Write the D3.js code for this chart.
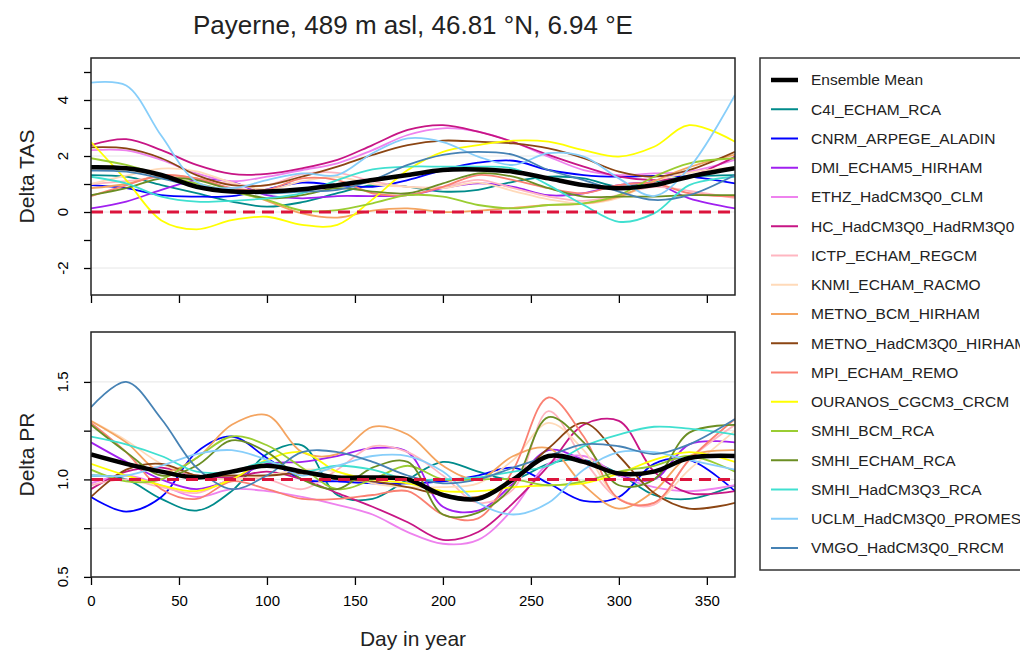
<!DOCTYPE html>
<html>
<head>
<meta charset="utf-8">
<script src="https://cdn.jsdelivr.net/npm/d3@7.9.0/dist/d3.min.js"></script>
<style>
  body { margin: 0; background: #fff; }
  svg { font-family: "Liberation Sans", Arial, Helvetica, sans-serif; }
</style>
</head>
<body>
<script>
// Day-of-year sample points shared by every series
const days = [0, 20, 40, 60, 80, 100, 120, 140, 160, 180, 200, 220, 240, 260, 280, 300, 320, 340, 366];

const modelNames = ["C4I_ECHAM_RCA", "CNRM_ARPEGE_ALADIN", "DMI_ECHAM5_HIRHAM", "ETHZ_HadCM3Q0_CLM",
  "HC_HadCM3Q0_HadRM3Q0", "ICTP_ECHAM_REGCM", "KNMI_ECHAM_RACMO", "METNO_BCM_HIRHAM",
  "METNO_HadCM3Q0_HIRHAM", "MPI_ECHAM_REMO", "OURANOS_CGCM3_CRCM", "SMHI_BCM_RCA",
  "SMHI_ECHAM_RCA", "SMHI_HadCM3Q3_RCA", "UCLM_HadCM3Q0_PROMES", "VMGO_HadCM3Q0_RRCM"];

const modelColors = ["#008B8B", "#0000FF", "#A020F0", "#EE82EE", "#C71585", "#FFB6C1", "#FFDAB9", "#F4A460",
  "#8B4513", "#FA8072", "#FFFF00", "#9ACD32", "#6B8E23", "#40E0D0", "#87CEFA", "#4682B4"];

// Delta TAS (temperature change)
const tasMean = [1.6, 1.56, 1.32, 0.9, 0.73, 0.73, 0.81, 0.96, 1.14, 1.32, 1.5, 1.52, 1.44, 1.2, 0.96, 0.85, 0.96, 1.26, 1.56];
const tasC4I = [1.32, 1.26, 0.96, 0.67, 0.37, 0.19, 0.35, 0.67, 0.96, 0.9, 0.73, 0.79, 1.08, 1.26, 1.2, 0.9, 1.08, 1.26, 1.32];
const tasCNRM = [0.96, 0.85, 0.6, 0.55, 0.57, 0.81, 1.05, 0.96, 0.9, 1.14, 1.5, 1.76, 1.83, 1.5, 1.32, 1.26, 1.29, 1.26, 1.02];
const tasDMI = [0.13, 0.37, 0.79, 1.14, 1.08, 0.6, 0.49, 0.57, 0.57, 0.6, 0.85, 1.02, 0.9, 0.6, 0.67, 0.96, 1.02, 0.49, 0.13];
const tasETHZ = [2.21, 2.2, 1.86, 1.38, 1.1, 1.26, 1.5, 1.74, 2.21, 2.75, 2.99, 2.87, 2.5, 1.98, 1.5, 1.32, 1.38, 1.44, 1.86];
const tasHC = [2.39, 2.6, 2.21, 1.68, 1.36, 1.36, 1.56, 1.86, 2.39, 2.93, 3.1, 2.87, 2.5, 2.04, 1.62, 1.26, 1.14, 1.26, 1.98];
const tasICTP = [1.0, 1.1, 1.25, 1.2, 1.0, 0.95, 1.35, 1.4, 1.1, 0.9, 0.9, 1.15, 0.85, 0.55, 0.4, 0.6, 0.9, 0.75, 0.5];
const tasKNMI = [1.0, 1.3, 1.55, 1.45, 1.05, 0.8, 1.1, 1.25, 1.0, 0.9, 0.85, 1.05, 0.75, 0.45, 0.3, 0.5, 1.1, 1.4, 1.6];
const tasMETNOb = [0.85, 1.0, 1.3, 1.2, 0.8, 0.4, -0.05, -0.2, 0.05, 0.13, 0.0, 0.05, 0.15, 0.25, 0.3, 0.55, 1.1, 1.6, 2.05];
const tasMETNOh = [2.31, 2.27, 1.92, 1.32, 0.96, 0.96, 1.26, 1.62, 2.04, 2.39, 2.55, 2.51, 2.45, 2.27, 1.92, 1.44, 1.26, 1.5, 2.15];
const tasMPI = [0.57, 0.95, 1.32, 1.2, 0.85, 0.8, 1.2, 1.14, 0.67, 0.6, 0.9, 1.32, 1.14, 0.85, 0.67, 0.96, 1.02, 0.67, 0.55];
const tasOURANOS = [2.5, 1.14, -0.3, -0.62, -0.29, -0.17, -0.46, -0.46, 0.45, 1.5, 2.15, 2.39, 2.55, 2.51, 2.21, 1.98, 2.33, 3.1, 2.51];
const tasSMHIb = [1.92, 1.68, 1.32, 1.02, 0.73, 0.43, 0.05, 0.07, 0.31, 0.6, 0.55, 0.25, 0.13, 0.25, 0.31, 0.6, 1.26, 1.74, 1.92];
const tasSMHIe = [0.6, 0.85, 1.2, 1.14, 0.79, 0.49, 0.6, 0.85, 0.73, 0.67, 1.02, 1.38, 1.26, 0.85, 0.55, 0.55, 0.55, 0.6, 0.6];
const tasSMHIh = [1.26, 1.02, 0.55, 0.37, 0.4, 0.49, 0.67, 1.14, 1.52, 1.62, 1.62, 1.62, 1.55, 0.96, 0.25, -0.35, -0.05, 0.96, 1.26];
const tasUCLM = [4.62, 4.52, 2.72, 1.08, 0.85, 1.14, 1.38, 1.32, 2.1, 2.63, 2.5, 1.98, 1.68, 2.1, 1.98, 1.2, 0.57, 1.58, 4.18];
const tasVMGO = [1.48, 1.44, 1.2, 0.9, 0.73, 0.67, 0.73, 0.79, 1.14, 1.68, 2.04, 2.15, 2.04, 1.5, 1.14, 0.73, 0.43, 0.6, 1.32];

// Delta PR (precipitation ratio)
const prMean = [1.128, 1.08, 1.04, 1.01, 1.04, 1.07, 1.04, 1.01, 1.01, 1.0, 0.92, 0.9, 1.0, 1.12, 1.09, 1.03, 1.04, 1.11, 1.12];
const prC4I = [1.02, 1.0, 0.9, 0.84, 0.94, 1.13, 1.175, 0.92, 0.9, 1.0, 1.09, 1.04, 1.0, 1.08, 1.1, 1.03, 0.92, 0.9, 0.97];
const prCNRM = [0.91, 0.835, 0.91, 1.14, 1.22, 1.11, 1.0, 0.99, 0.98, 0.98, 0.99, 1.02, 1.06, 0.98, 0.89, 0.91, 1.08, 1.1, 0.94];
const prDMI = [1.19, 1.09, 1.0, 0.95, 1.0, 1.08, 1.09, 1.12, 1.16, 1.14, 0.86, 0.84, 0.98, 1.15, 1.1, 1.02, 1.0, 1.18, 1.19];
const prETHZ = [0.98, 1.02, 0.97, 0.91, 0.95, 0.94, 0.91, 0.87, 0.82, 0.73, 0.67, 0.69, 0.85, 1.08, 1.12, 1.02, 0.96, 0.94, 0.97];
const prHC = [0.95, 1.04, 1.06, 1.02, 1.01, 1.04, 1.0, 0.93, 0.86, 0.78, 0.69, 0.73, 0.88, 1.07, 1.28, 1.3, 1.04, 0.93, 0.94];
const prICTP = [0.97, 1.0, 0.96, 0.93, 1.0, 1.0, 0.95, 1.05, 1.17, 1.14, 1.02, 0.88, 0.95, 1.35, 1.1, 0.9, 0.87, 1.1, 1.28];
const prKNMI = [1.3, 1.2, 1.08, 1.02, 1.0, 1.02, 1.05, 1.04, 0.98, 0.96, 0.96, 0.98, 1.1, 1.29, 1.15, 0.9, 0.88, 1.05, 1.25];
const prMETNOb = [1.3, 1.19, 1.04, 1.11, 1.28, 1.33, 1.14, 1.13, 1.27, 1.23, 1.07, 1.0, 1.12, 1.16, 0.97, 0.85, 0.94, 1.12, 1.15];
const prMETNOh = [0.91, 1.05, 1.08, 1.02, 1.02, 1.02, 1.03, 1.0, 0.99, 0.96, 0.92, 0.91, 1.0, 1.16, 1.29, 1.12, 0.93, 0.85, 0.88];
const prMPI = [1.29, 1.14, 0.95, 0.9, 0.99, 0.95, 0.9, 0.9, 0.92, 0.94, 0.82, 0.8, 1.05, 1.42, 1.22, 0.9, 0.88, 1.1, 1.31];
const prOURANOS = [1.08, 1.02, 0.97, 0.94, 1.0, 1.1, 1.14, 1.04, 1.0, 0.98, 0.94, 0.94, 0.96, 0.97, 0.98, 1.03, 1.1, 1.14, 1.09];
const prSMHIb = [1.05, 0.99, 1.0, 1.11, 1.22, 1.175, 1.06, 0.95, 1.0, 1.07, 1.0, 1.0, 1.0, 0.97, 0.99, 1.04, 1.07, 1.12, 1.04];
const prSMHIe = [1.28, 1.14, 1.02, 1.07, 1.2, 1.14, 1.0, 0.95, 1.06, 1.09, 0.82, 0.83, 0.97, 1.32, 1.19, 0.97, 1.0, 1.24, 1.28];
const prSMHIh = [1.22, 1.18, 1.12, 1.04, 1.04, 1.09, 1.04, 1.07, 1.05, 1.0, 1.0, 1.01, 1.04, 1.07, 1.17, 1.23, 1.27, 1.26, 1.23];
const prUCLM = [1.02, 1.02, 1.07, 1.13, 1.15, 1.1, 1.02, 1.07, 1.12, 1.12, 1.04, 0.88, 0.82, 0.88, 1.05, 1.14, 1.14, 1.1, 1.05];
const prVMGO = [1.37, 1.5, 1.31, 1.06, 0.95, 1.02, 1.14, 1.14, 1.09, 1.02, 0.98, 1.0, 1.06, 1.12, 1.18, 1.17, 1.13, 1.18, 1.31];

const tasModels = [tasC4I, tasCNRM, tasDMI, tasETHZ, tasHC, tasICTP, tasKNMI, tasMETNOb, tasMETNOh, tasMPI,
  tasOURANOS, tasSMHIb, tasSMHIe, tasSMHIh, tasUCLM, tasVMGO];
const prModels = [prC4I, prCNRM, prDMI, prETHZ, prHC, prICTP, prKNMI, prMETNOb, prMETNOh, prMPI,
  prOURANOS, prSMHIb, prSMHIe, prSMHIh, prUCLM, prVMGO];

const xTicks = [0, 50, 100, 150, 200, 250, 300, 350];

const width = 1020, height = 652;
const svg = d3.select("body").append("svg").attr("width", width).attr("height", height);

const left = 91, right = 735;
const x = d3.scaleLinear().domain([0, 366]).range([left, right]);

// Title
svg.append("text")
  .attr("x", (left + right) / 2).attr("y", 34)
  .attr("text-anchor", "middle")
  .style("font-size", "26px").attr("fill", "#222")
  .text("Payerne, 489 m asl, 46.81 °N, 6.94 °E");

function drawPanel(opts) {
  const y = d3.scaleLinear().domain(opts.domain).range([opts.bottom, opts.top]);
  const g = svg.append("g");
  const clipId = "clip" + opts.id;
  svg.append("clipPath").attr("id", clipId)
    .append("rect").attr("x", left).attr("y", opts.top).attr("width", right - left).attr("height", opts.bottom - opts.top);

  // light grid
  g.selectAll(".grid").data(opts.grid).enter().append("line")
    .attr("x1", left).attr("x2", right)
    .attr("y1", d => y(d)).attr("y2", d => y(d))
    .attr("stroke", "#e6e6e6").attr("stroke-width", 1);

  const line = d3.line()
    .x((d, i) => x(days[i]))
    .y(d => y(d))
    .curve(d3.curveCatmullRom.alpha(0.5));

  const lines = g.append("g").attr("clip-path", `url(#${clipId})`);
  opts.models.forEach((vals, i) => {
    lines.append("path").datum(vals)
      .attr("d", line)
      .attr("fill", "none")
      .attr("stroke", modelColors[i])
      .attr("stroke-width", 1.8);
  });
  lines.append("path").datum(opts.mean)
    .attr("d", line).attr("fill", "none")
    .attr("stroke", "#000").attr("stroke-width", 4.5);
  lines.append("line")
    .attr("x1", left).attr("x2", right)
    .attr("y1", y(opts.ref)).attr("y2", y(opts.ref))
    .attr("stroke", "#DC143C").attr("stroke-width", 3)
    .attr("stroke-dasharray", "12,7");

  // y axis
  const yAxis = g.append("g").attr("transform", `translate(${left},0)`)
    .call(d3.axisLeft(y).tickValues(opts.yTicks).tickSize(7).tickFormat(""));
  yAxis.select(".domain").remove();
  yAxis.selectAll("line").attr("stroke", "#000").attr("stroke-width", 1.3);
  g.selectAll(".ylab").data(opts.yLabels).enter().append("text")
    .attr("transform", d => `translate(68,${y(d)}) rotate(-90)`)
    .attr("text-anchor", "middle")
    .style("font-size", "15px")
    .text(d => opts.fmt(d));

  // x axis ticks
  const xAxis = g.append("g").attr("transform", `translate(0,${opts.bottom})`)
    .call(d3.axisBottom(x).tickValues(xTicks).tickSize(8).tickFormat(opts.xLabels ? d3.format("d") : ""));
  xAxis.select(".domain").remove();
  xAxis.selectAll("line").attr("stroke", "#000").attr("stroke-width", 1.3);
  xAxis.selectAll("text").style("font-size", "15px").attr("fill", "#000").attr("dy", "1.2em")
    .style("font-family", "Liberation Sans, Arial, sans-serif");

  // frame
  g.append("rect")
    .attr("x", left).attr("y", opts.top)
    .attr("width", right - left).attr("height", opts.bottom - opts.top)
    .attr("fill", "none").attr("stroke", "#222").attr("stroke-width", 1.5);

  // axis title
  svg.append("text")
    .attr("transform", `translate(34,${(opts.top + opts.bottom) / 2}) rotate(-90)`)
    .attr("text-anchor", "middle")
    .style("font-size", "21px").attr("fill", "#222")
    .text(opts.title);
}

drawPanel({
  id: "tas", top: 58, bottom: 295, domain: [-2.964, 5.5],
  models: tasModels, mean: tasMean, ref: 0,
  grid: [-2, 0, 2, 4], yTicks: [-2, -1, 0, 1, 2, 3, 4, 5], yLabels: [-2, 0, 2, 4],
  fmt: d => String(d), xLabels: false, title: "Delta TAS"
});

drawPanel({
  id: "pr", top: 332, bottom: 577, domain: [0.4995, 1.756],
  models: prModels, mean: prMean, ref: 1,
  grid: [0.75, 1.0, 1.25, 1.5], yTicks: [0.5, 0.75, 1.0, 1.25, 1.5], yLabels: [0.5, 1.0, 1.5],
  fmt: d => d.toFixed(1), xLabels: true, title: "Delta PR"
});

svg.append("text")
  .attr("x", (left + right) / 2).attr("y", 646)
  .attr("text-anchor", "middle")
  .style("font-size", "21px").attr("fill", "#222")
  .text("Day in year");

// Legend
const legendNames = ["Ensemble Mean"].concat(modelNames);
const legendColors = ["#000"].concat(modelColors);
const legend = svg.append("g");
legend.append("rect")
  .attr("x", 760).attr("y", 58).attr("width", 300).attr("height", 512)
  .attr("fill", "none").attr("stroke", "#333").attr("stroke-width", 1.5);
const ly = d3.scalePoint().domain(legendNames).range([80, 548]);
const items = legend.selectAll(".item").data(legendNames).enter().append("g")
  .attr("transform", d => `translate(0,${ly(d)})`);
items.append("line")
  .attr("x1", 771).attr("x2", 798)
  .attr("stroke", (d, i) => legendColors[i])
  .attr("stroke-width", (d, i) => i === 0 ? 4.5 : 2);
items.append("text")
  .attr("x", 811).attr("dy", "0.35em")
  .style("font-size", "15.5px").attr("fill", "#222")
  .text(d => d);
</script>
</body>
</html>
